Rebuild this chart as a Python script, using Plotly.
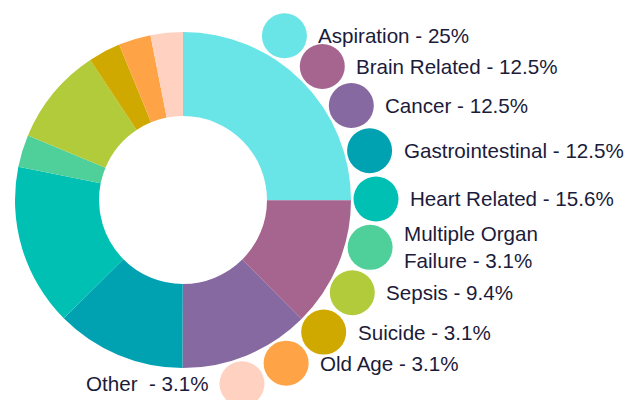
import math
import plotly.graph_objects as go

# ---- data ----
categories = ["Aspiration", "Brain Related", "Cancer", "Gastrointestinal",
              "Heart Related", "Multiple Organ Failure", "Sepsis", "Suicide",
              "Old Age", "Other"]
percent = [25, 12.5, 12.5, 12.5, 15.6, 3.1, 9.4, 3.1, 3.1, 3.1]
label_text = ["Aspiration - 25%", "Brain Related - 12.5%", "Cancer - 12.5%",
              "Gastrointestinal - 12.5%", "Heart Related - 15.6%",
              "Multiple Organ<br>Failure - 3.1%", "Sepsis - 9.4%",
              "Suicide - 3.1%", "Old Age - 3.1%", "Other\u00a0\u00a0- 3.1%"]
colors = ["#69E4E7", "#A6658F", "#8669A1", "#00A2B2", "#00BFB3",
          "#4FD09A", "#B1CB3A", "#CFA900", "#FFA446", "#FFD1C1"]

# ---- layout constants (pixels) ----
W, H = 624, 400
CX, CY, R_PIE = 183, 200, 168
R_LEG = 193          # radius of the legend-bubble arc
A0, DA = 31.7, 14.5  # first bubble angle and step (deg, clockwise from 12 o'clock)
BUBBLE = 45
TXT_GAP = 32
FONT = dict(family="Liberation Sans, Arial, sans-serif", size=20.6, color="#1b1b3a")

fig = go.Figure()

fig.add_trace(go.Pie(
    labels=categories, values=percent, sort=False, direction="clockwise",
    rotation=0, hole=0.5, textinfo="none", hoverinfo="label+percent",
    marker=dict(colors=colors, line=dict(width=0)),
    domain=dict(x=[(CX - R_PIE) / W, (CX + R_PIE) / W],
                y=[1 - (CY + R_PIE) / H, 1 - (CY - R_PIE) / H]),
    showlegend=False,
))

bx, by = [], []
for i in range(len(categories)):
    a = math.radians(A0 + DA * i)
    bx.append(CX + R_LEG * math.sin(a))
    by.append(CY - R_LEG * math.cos(a))

fig.add_trace(go.Scatter(
    x=bx, y=by, mode="markers",
    marker=dict(size=BUBBLE, color=colors, line=dict(width=0), opacity=1),
    hoverinfo="text", hovertext=categories, showlegend=False,
))

annotations = []
for i, t in enumerate(label_text):
    last = i == len(label_text) - 1
    annotations.append(dict(
        x=bx[i] - TXT_GAP if last else bx[i] + TXT_GAP, y=by[i],
        xref="x", yref="y", text=t, showarrow=False,
        xanchor="right" if last else "left", yanchor="middle",
        align="left", font=FONT,
    ))

fig.update_layout(
    width=W, height=H, margin=dict(l=0, r=0, t=0, b=0),
    paper_bgcolor="white", plot_bgcolor="rgba(0,0,0,0)",
    xaxis=dict(range=[0, W], visible=False, fixedrange=True),
    yaxis=dict(range=[H, 0], visible=False, fixedrange=True),
    annotations=annotations,
)

fig.write_html("out.html", config=dict(displayModeBar=False),
               post_script="document.body.style.margin='0';")
